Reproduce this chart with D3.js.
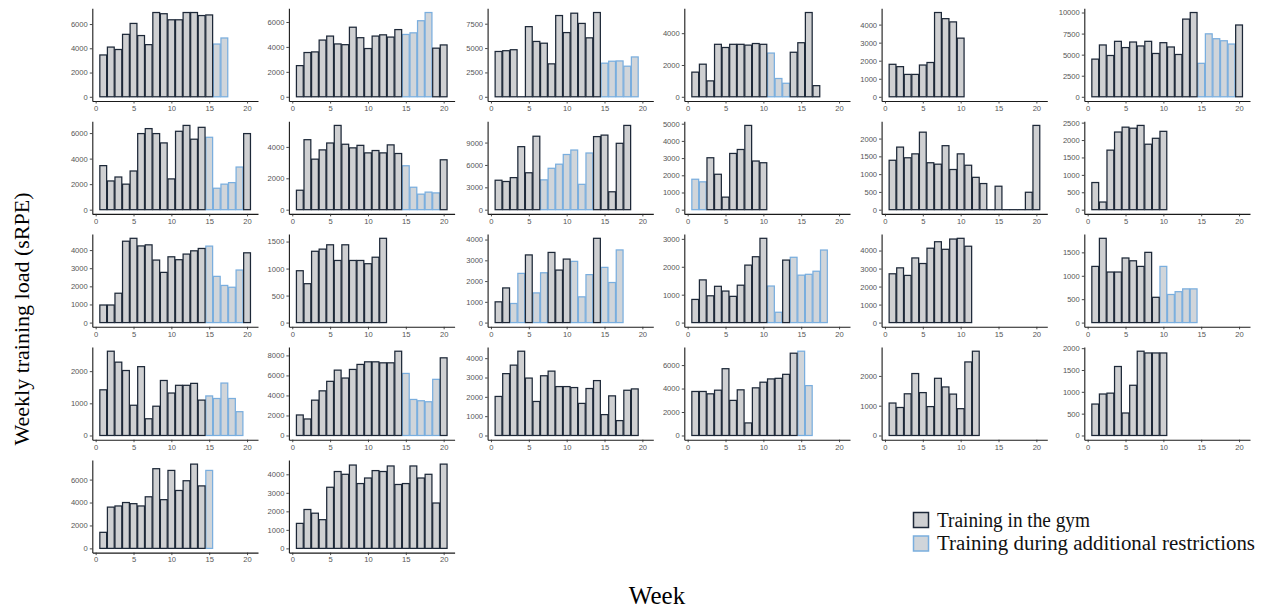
<!DOCTYPE html>
<html><head><meta charset="utf-8">
<script src="https://cdn.jsdelivr.net/npm/d3@7"></script>
<style>body{margin:0;background:#fff}</style>
</head><body>
<svg id="chart" width="1267" height="609"></svg>
<script>
// Weekly training load (sRPE) per athlete, weeks 1..n
const weeklyLoad = [
  [3450,4100,3900,5150,6050,5050,4300,6950,6850,6350,6350,6950,6950,6700,6750,4350,4850],
  [2500,3550,3600,4550,4870,4240,4180,5580,4740,3870,4870,4970,4790,5390,5000,5130,6100,6760,3900,4160],
  [4650,4730,4830,0,7200,5680,5500,3380,8340,6590,8580,7530,6050,8650,3450,3650,3680,3140,4090],
  [1550,2050,1000,3300,3100,3300,3300,3250,3350,3300,2750,1150,850,2800,3400,5300,700],
  [1800,1670,1240,1240,1760,1900,4670,4330,4150,3250],
  [4470,6150,4900,6580,5840,6500,6030,6580,5140,6420,5910,5020,9220,10000,3970,7470,6890,6650,6260,8520],
  [3450,2250,2560,2000,3030,5960,6350,5960,5230,2410,6140,6600,5520,6450,5670,1680,2000,2120,3340,5960],
  [1240,4460,3220,3810,4250,5370,4170,3940,4100,3620,3770,3620,4130,3580,2800,1430,990,1120,1070,3180],
  [3950,3780,4300,8450,4950,9850,4000,5550,6100,7400,8000,3400,7600,9800,10000,2400,8900,11300],
  [1770,1620,3020,2060,730,3270,3500,4900,2830,2730],
  [1390,1760,1460,1570,2180,1320,1280,1800,1130,1570,1250,910,735,0,660,0,0,0,490,2370],
  [780,220,1710,2230,2370,2340,2420,1880,2050,2250],
  [970,970,1620,4490,4650,4230,4290,3450,2770,3630,3470,3780,3960,4090,4220,2550,2050,1950,2900,3850],
  [960,720,1320,1360,1440,1150,1440,1150,1150,1090,1210,1560],
  [1000,1670,920,2370,3260,1430,2400,3380,2530,3060,2950,1240,2310,4060,2660,1930,3500],
  [830,1530,960,1300,1130,940,1340,2060,2360,3020,1310,370,2240,2340,1700,1730,1840,2600],
  [2710,3040,2620,3590,3280,4130,4490,4070,4640,4680,4240],
  [1200,1800,1080,1080,1380,1320,1200,1500,540,1200,600,660,720,720],
  [1420,2620,2280,2020,940,2140,520,910,1710,1320,1560,1560,1620,1100,1230,1150,1630,1150,740],
  [2050,1650,3530,4460,5410,6530,5740,6600,7100,7360,7360,7260,7260,8420,6200,3600,3470,3370,5610,7760],
  [2020,3200,3640,4360,2970,1760,3090,3330,2530,2530,2480,1660,2430,2840,1080,2050,770,2340,2410],
  [3750,3750,3550,3860,5690,2990,3890,1070,4060,4540,4820,4870,5210,7010,7180,4250],
  [1090,940,1400,2080,1440,970,1920,1630,1390,900,2470,2830],
  [720,950,970,1580,515,1150,1930,1890,1890,1890],
  [1400,3600,3700,4000,3900,3700,4500,6950,4250,6800,5050,5900,7350,5450,6800],
  [1350,2100,1900,1550,3300,4150,4000,4500,3500,3800,4200,4150,4450,3450,3500,4450,3800,4000,2450,4550]
];

// Weeks trained under additional restrictions (all other weeks: in the gym)
const restrictedWeeks = [
  [16,17],
  [15,16,17,18],
  [15,16,17,18,19],
  [11,12,13],
  [],
  [15,16,17,18,19],
  [15,16,17,18,19],
  [15,16,17,18,19],
  [7,8,9,10,11,12,13],
  [1,2],
  [],
  [],
  [15,16,17,18,19],
  [],
  [3,4,6,7,11,12,13,15,16,17],
  [11,12,14,15,16,17,18],
  [],
  [10,11,12,13,14],
  [15,16,17,18,19],
  [15,16,17,18,19],
  [],
  [15,16],
  [],
  [],
  [15],
  []
];

// y-axis tick values for each panel
const yTickValues = [
  [0,2000,4000,6000],
  [0,2000,4000,6000],
  [0,2500,5000,7500],
  [0,2000,4000],
  [0,1000,2000,3000,4000],
  [0,2500,5000,7500,10000],
  [0,2000,4000,6000],
  [0,2000,4000],
  [0,3000,6000,9000],
  [0,1000,2000,3000,4000,5000],
  [0,500,1000,1500,2000],
  [0,500,1000,1500,2000,2500],
  [0,1000,2000,3000,4000],
  [0,500,1000,1500],
  [0,1000,2000,3000,4000],
  [0,1000,2000,3000],
  [0,1000,2000,3000,4000],
  [0,500,1000,1500],
  [0,1000,2000],
  [0,2000,4000,6000,8000],
  [0,1000,2000,3000,4000],
  [0,2000,4000,6000],
  [0,1000,2000],
  [0,500,1000,1500,2000],
  [0,2000,4000,6000],
  [0,1000,2000,3000,4000]
];

const xTickValues = [0,5,10,15,20];
const legendLabels = ["Training in the gym", "Training during additional restrictions"];
const yTitle = "Weekly training load (sRPE)";
const xTitle = "Week";

// layout
const colLeft = [92.3, 288.9, 487.6, 684.3, 881.6, 1084.3];
const panelW = 165.7, panelH = 92.7, rowTop0 = 8.3, rowStep = 112.9;
const legendTextWidth = [153, 318];
const gymFill = "#cfd0d2", gymStroke = "#1d2838";
const resFill = "#d0d5da", resStroke = "#7aaede";
const tickFont = "'Liberation Sans', Arial, sans-serif";
const serif = "'Liberation Serif', 'Times New Roman', serif";

const svg = d3.select("#chart");

weeklyLoad.forEach((vals, i) => {
  const col = i % 6, row = Math.floor(i / 6);
  const g = svg.append("g")
    .attr("transform", `translate(${colLeft[col]},${rowTop0 + row * rowStep})`);

  const x = d3.scaleLinear().domain([-0.445, 21.445]).range([0, panelW]);
  const maxV = d3.max(vals);
  const y = d3.scaleLinear().domain([-0.05 * maxV, 1.05 * maxV]).range([panelH, 0]);

  const data = vals.map((v, k) => ({
    week: k + 1,
    value: v,
    restricted: restrictedWeeks[i].includes(k + 1)
  }));

  // restricted weeks first so gym outlines sit on top
  const ordered = data.filter(d => d.restricted).concat(data.filter(d => !d.restricted));

  g.selectAll("rect.bar")
    .data(ordered)
    .join("rect")
    .attr("class", "bar")
    .attr("x", d => x(d.week - 0.45))
    .attr("width", x(0.9) - x(0))
    .attr("y", d => y(d.value))
    .attr("height", d => Math.max(0.01, y(0) - y(d.value)))
    .attr("fill", d => d.restricted ? resFill : gymFill)
    .attr("stroke", d => d.restricted ? resStroke : gymStroke)
    .attr("stroke-width", 1.25);

  const yAxis = g.append("g")
    .call(d3.axisLeft(y).tickValues(yTickValues[i]).tickSize(2.5).tickSizeOuter(0).tickPadding(2).tickFormat(d3.format("d")));
  const xAxis = g.append("g")
    .attr("transform", `translate(0,${panelH})`)
    .call(d3.axisBottom(x).tickValues(xTickValues).tickSize(2.5).tickSizeOuter(0).tickPadding(2));

  [yAxis, xAxis].forEach(a => {
    a.select(".domain").attr("stroke", "#1a1a1a").attr("stroke-width", 1.1);
    a.selectAll(".tick line").attr("stroke", "#333").attr("stroke-width", 0.9);
    a.selectAll(".tick text")
      .attr("fill", "#555")
      .style("font-family", tickFont)
      .style("font-size", "7.6px");
  });
});

// axis titles
svg.append("text")
  .attr("x", 657).attr("y", 604)
  .attr("text-anchor", "middle")
  .style("font-family", serif).style("font-size", "25px")
  .text(xTitle);

svg.append("text")
  .attr("transform", "translate(29,319) rotate(-90)")
  .attr("text-anchor", "middle")
  .style("font-family", serif).style("font-size", "22px")
  .text(yTitle);

// legend
const legend = svg.append("g").attr("transform", "translate(913,512)");
legendLabels.forEach((lab, k) => {
  const row = legend.append("g").attr("transform", `translate(0,${k * 23.5})`);
  row.append("rect")
    .attr("x", 0.5).attr("y", 0.5).attr("width", 15).attr("height", 15)
    .attr("fill", k === 0 ? gymFill : resFill)
    .attr("stroke", k === 0 ? gymStroke : resStroke)
    .attr("stroke-width", 1.5);
  row.append("text")
    .attr("x", 24).attr("y", 14.5)
    .attr("textLength", legendTextWidth[k])
    .attr("lengthAdjust", "spacingAndGlyphs")
    .style("font-family", serif).style("font-size", "20px")
    .attr("fill", "#111")
    .text(lab);
});
</script>
</body></html>
